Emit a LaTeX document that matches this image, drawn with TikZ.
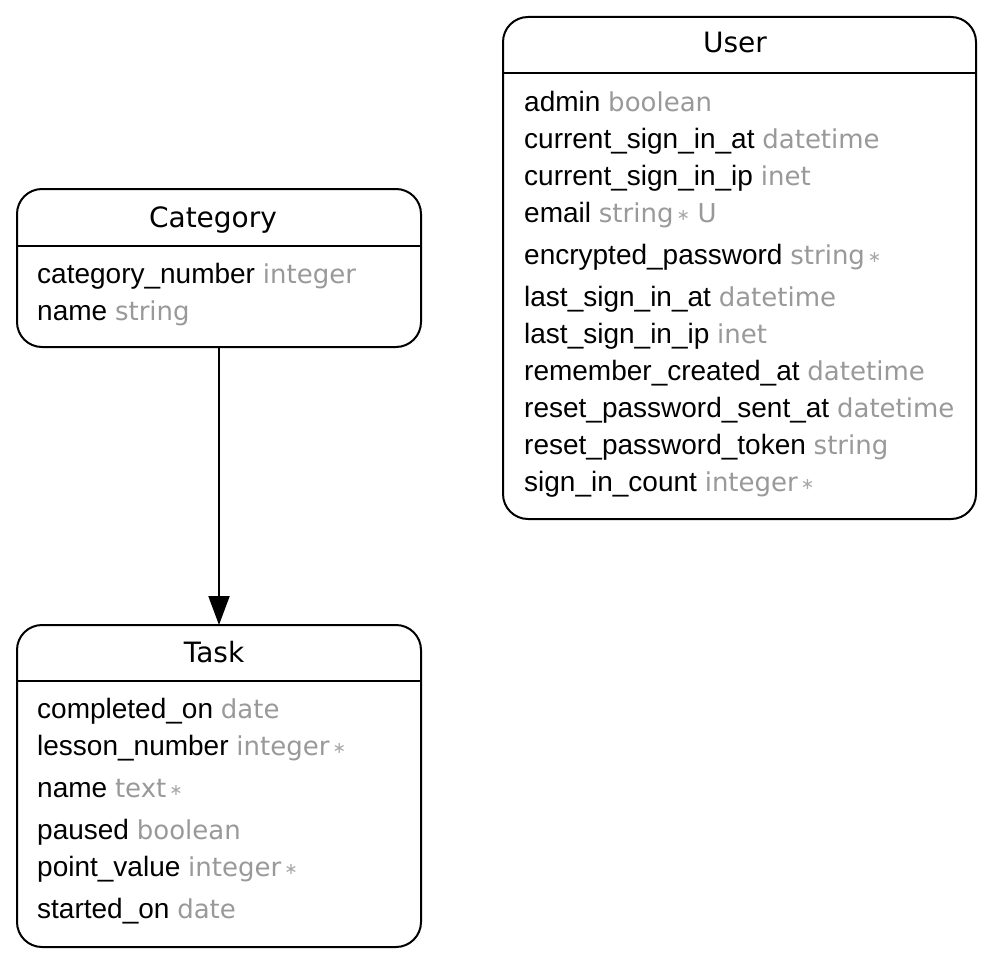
\documentclass[tikz,border=0pt]{standalone}
\usepackage{fontspec}
\setmainfont{Liberation Sans}
\newfontfamily\titlefont{DejaVu Sans}
\usetikzlibrary{arrows.meta,calc}
\definecolor{typegray}{HTML}{999999}
\definecolor{stargray}{HTML}{A8A8A8}
% attribute type in grey, and the marker for required columns
\newcommand{\ty}[1]{{\titlefont\fontsize{26}{28}\selectfont\color{typegray}#1}}
\newcommand{\req}{\hspace{3pt}{\titlefont\fontsize{16}{16}\selectfont\color{stargray}\raisebox{1.5pt}{∗}}}
\tikzset{
  entity/.style={draw, line width=2pt, rounded corners=25pt, inner sep=0pt, outer sep=0pt},
  ttl/.style={anchor=base, inner sep=0pt, font=\titlefont\fontsize{28}{30}\selectfont},
  attr/.style={anchor=base west, inner sep=0pt, font=\fontsize{28}{30}\selectfont},
  sep/.style={line width=2pt},
  rel/.style={line width=2pt, -{Triangle[length=29pt,width=21pt]}},
}
\begin{document}
\begin{tikzpicture}[x=1pt,y=-1pt]
\useasboundingbox (0,0) rectangle (1000,963);

% ---- Category ----
\node[entity, minimum width=404pt, minimum height=158pt] (cat) at (219,268) {};
\draw[sep] ($(cat.north west)+(0,57)$) -- ($(cat.north east)+(0,57)$);
\node[ttl] (catT) at (213,227) {Category};
\node[attr] (cat1) at (37,283) {category\_number \ty{integer}};
\node[attr] (cat2) at (37,320) {name \ty{string}};

% ---- Task ----
\node[entity, minimum width=404pt, minimum height=322pt] (task) at (219,786) {};
\draw[sep] ($(task.north west)+(0,56)$) -- ($(task.north east)+(0,56)$);
\node[ttl] (taskT) at (214,662) {Task};
\node[attr] (task1) at (37,718) {completed\_on \ty{date}};
\node[attr] (task2) at (37,755) {lesson\_number \ty{integer}\req};
\node[attr] (task3) at (37,797) {name \ty{text}\req};
\node[attr] (task4) at (37,839) {paused \ty{boolean}};
\node[attr] (task5) at (37,876) {point\_value \ty{integer}\req};
\node[attr] (task6) at (37,918) {started\_on \ty{date}};

% ---- User ----
\node[entity, minimum width=473pt, minimum height=502pt] (user) at (739.5,268) {};
\draw[sep] ($(user.north west)+(0,56)$) -- ($(user.north east)+(0,56)$);
\node[ttl] (userT) at (735,53) {User};
\node[attr] (user1) at (524,111) {admin \ty{boolean}};
\node[attr] (user2) at (524,148) {current\_sign\_in\_at \ty{datetime}};
\node[attr] (user3) at (524,185) {current\_sign\_in\_ip \ty{inet}};
\node[attr] (user4) at (524,222) {email \ty{string}\req\ \ty{U}};
\node[attr] (user5) at (524,264) {encrypted\_password \ty{string}\req};
\node[attr] (user6) at (524,306) {last\_sign\_in\_at \ty{datetime}};
\node[attr] (user7) at (524,343) {last\_sign\_in\_ip \ty{inet}};
\node[attr] (user8) at (524,380) {remember\_created\_at \ty{datetime}};
\node[attr] (user9) at (524,417) {reset\_password\_sent\_at \ty{datetime}};
\node[attr] (user10) at (524,454) {reset\_password\_token \ty{string}};
\node[attr] (user11) at (524,491) {sign\_in\_count \ty{integer}\req};

% ---- relation ----
\draw[rel] (cat.south) -- (task.north);
\end{tikzpicture}
\end{document}
